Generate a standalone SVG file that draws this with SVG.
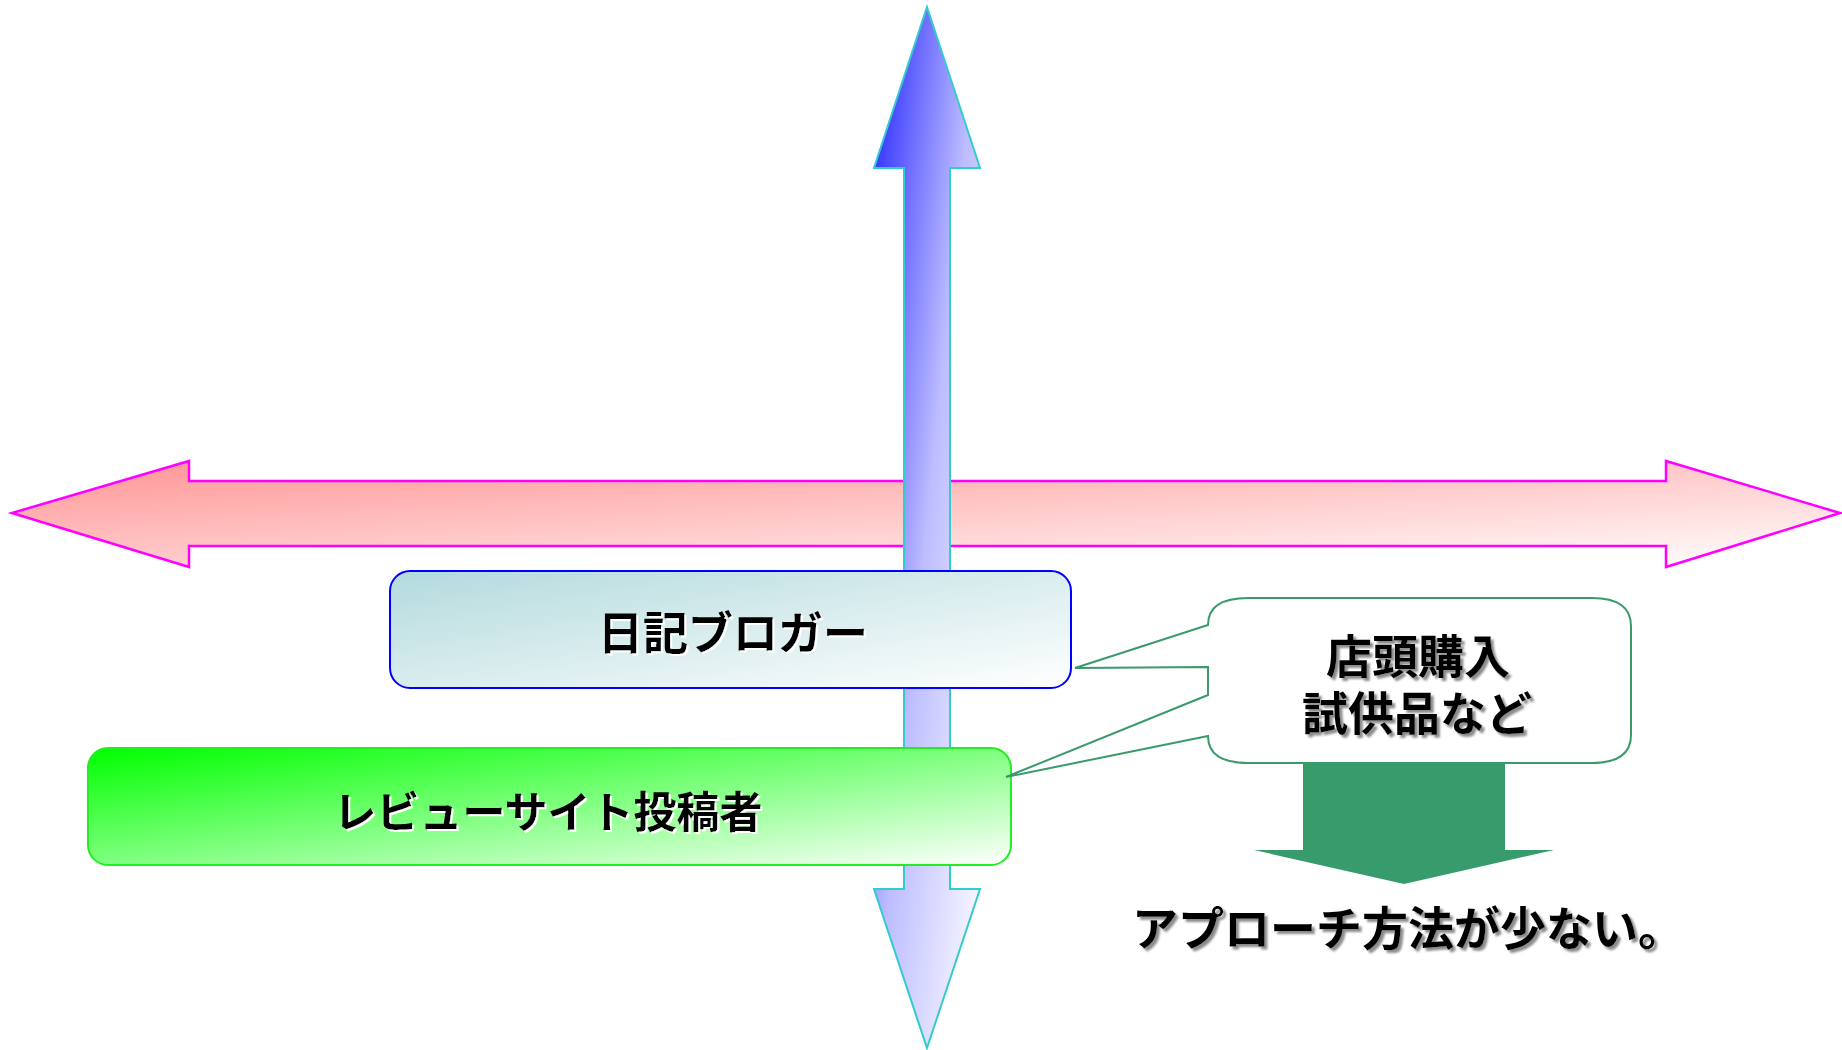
<svg xmlns="http://www.w3.org/2000/svg" width="1842" height="1050" viewBox="0 0 1842 1050">
<style>
.t{font-family:"Noto Sans CJK JP","Noto Sans CJK SC",sans-serif;font-weight:bold;text-anchor:middle;fill:#000}
.ws{filter:url(#shW)}
.gs{filter:url(#shG)}
</style>
<defs>
<filter id="shW" x="-10%" y="-30%" width="120%" height="160%">
<feDropShadow dx="2" dy="2" stdDeviation="0.6" flood-color="#ffffff" flood-opacity="1"/>
</filter>
<filter id="shG" x="-10%" y="-30%" width="120%" height="160%">
<feDropShadow dx="3" dy="3" stdDeviation="1" flood-color="#8c8c8c" flood-opacity="1"/>
</filter>
<linearGradient id="gPink" x1="0" y1="0" x2="1" y2="1">
<stop offset="0" stop-color="#ff9494"/>
<stop offset="1" stop-color="#ffffff"/>
</linearGradient>
<linearGradient id="gBlue" x1="0" y1="0" x2="1" y2="1">
<stop offset="0" stop-color="#2020ff"/>
<stop offset="0.5" stop-color="#bdbdff"/>
<stop offset="1" stop-color="#ffffff"/>
</linearGradient>
<linearGradient id="gTeal" x1="0" y1="0" x2="1" y2="1">
<stop offset="0" stop-color="#b3dadd"/>
<stop offset="1" stop-color="#ffffff"/>
</linearGradient>
<linearGradient id="gGreen" x1="0" y1="0" x2="1" y2="1">
<stop offset="0" stop-color="#00ff00"/>
<stop offset="1" stop-color="#ffffff"/>
</linearGradient>
</defs>

<g id="connectors">
<polygon id="h-axis" points="12,513 189,461 189,481 1666,481 1666,461 1840,513 1666,567 1666,546 189,546 189,567" fill="url(#gPink)" stroke="#ff00ff" stroke-width="2.5" stroke-linejoin="miter"/>
<polygon id="v-axis" points="927,7 980,168 950,168 950,889 980,889 927,1048 874,889 904,889 904,168 874,168" fill="url(#gBlue)" stroke="#33cccc" stroke-width="2" stroke-linejoin="miter"/>
<polygon id="result-arrow" points="1303,763 1505,763 1505,850 1554,850 1404,884 1254,850 1303,850" fill="#389b6b"/>
</g>

<g id="node-blogger">
<rect x="390" y="571" width="681" height="117" rx="20" ry="20" fill="url(#gTeal)" stroke="#0000ff" stroke-width="2"/>
<text class="t ws" x="733" y="650" font-size="45">日記ブロガー</text>
</g>

<g id="node-review">
<rect x="88" y="748" width="923" height="117" rx="20" ry="20" fill="url(#gGreen)" stroke="#22ee22" stroke-width="2"/>
<text class="t ws" x="548" y="828" font-size="43">レビューサイト投稿者</text>
</g>

<g id="node-callout">
<path d="M1248,598 L1592,598 Q1631,598 1631,626 L1631,735 Q1631,763 1592,763 L1248,763 Q1208,763 1208,736 L1006,777 L1208,695 L1208,667 L1075,668 L1208,625 Q1208,598 1248,598 Z" fill="#ffffff" stroke="#3a9a6a" stroke-width="2" stroke-linejoin="miter"/>
<text class="t gs" font-size="46"><tspan x="1418" y="673">店頭購入</tspan><tspan x="1417" y="730">試供品など</tspan></text>
</g>

<g id="node-result">
<text class="t gs" x="1408" y="945" font-size="46">アプローチ方法が少ない。</text>
</g>
</svg>
